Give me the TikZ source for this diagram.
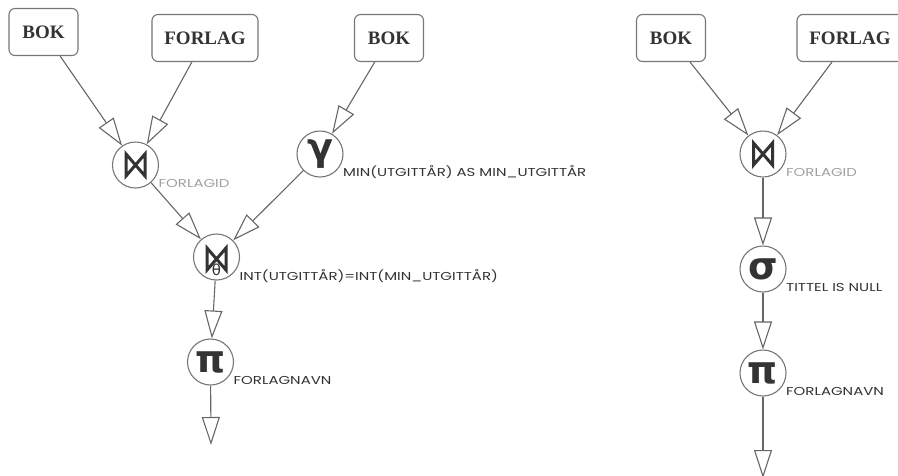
\documentclass[tikz,border=0pt]{standalone}
\usepackage{fontspec}
\usetikzlibrary{arrows.meta}
\newfontfamily\boxfont{Liberation Serif}
\newfontfamily\labelfont[FakeStretch=1.3]{Poppins}
\newfontfamily\symfont{DejaVu Sans}
\definecolor{edgegray}{HTML}{666666}
\definecolor{ringgray}{HTML}{777777}
\definecolor{ink}{HTML}{333333}
\definecolor{faint}{HTML}{A0A0A0}
\tikzset{
  relbox/.style={draw=ringgray, line width=1.1pt, rounded corners=6pt, fill=white,
    minimum height=47pt, inner sep=0pt, text=ink,
    font=\boxfont\bfseries\fontsize{19}{19}\selectfont},
  opnode/.style={circle, draw=ringgray, line width=1.1pt, minimum size=46pt,
    inner sep=0pt, fill=white, text=ink},
  greek/.style={font=\symfont\bfseries\fontsize{38}{38}\selectfont},
  oplabel/.style={anchor=west, inner sep=0pt, text=ink,
    font=\labelfont\fontsize{11.5}{11.5}\selectfont},
  flow/.style={draw=edgegray, line width=1.1pt,
    -{Triangle[open, length=28pt, width=18pt, line width=1.1pt]}},
  bowtie/.pic={
    \draw[ink, line width=3pt, line join=miter, miter limit=4]
      (-9.5,-11) -- (-9.5,11) -- (9.5,-11) -- (9.5,11) -- cycle;
  }
}
\begin{document}
\begin{tikzpicture}[x=1pt, y=-1pt]
  \useasboundingbox (0,0) rectangle (898,475);
  \clip (0,0) rectangle (898,475);

  % ---- first query tree ----
  \node[relbox, minimum width=69pt]  (bokA)    at (43.5,32) {BOK};
  \node[relbox, minimum width=106pt] (forlagA) at (205,38)  {FORLAG};
  \node[relbox, minimum width=69pt]  (bokB)    at (389,38)  {BOK};

  \node[opnode] (joinA)  at (135.5,165) {};
  \path (joinA) pic {bowtie};
  \node[oplabel, text=faint] at ([shift={(23,18)}]joinA.center) {FORLAGID};

  \node[opnode, greek] (gamma) at (320,154) {γ};
  \node[oplabel] at ([shift={(23,18)}]gamma.center) {MIN(UTGITTÅR) AS MIN\_UTGITTÅR};

  \node[opnode] (theta) at (216.5,257) {};
  \path ([yshift=-2pt]theta.center) pic {bowtie};
  \node[text=ink, inner sep=0pt, font=\symfont\fontsize{15}{15}\selectfont]
    at ([shift={(0,13)}]theta.center) {θ};
  \node[oplabel] at ([shift={(23,19)}]theta.center) {INT(UTGITTÅR)=INT(MIN\_UTGITTÅR)};

  \node[opnode, greek] (projA) at (210.5,362) {π};
  \node[oplabel] at ([shift={(23,18)}]projA.center) {FORLAGNAVN};

  \coordinate (outA) at (211,445);

  \draw[flow] (bokA) -- (joinA);
  \draw[flow] (forlagA) -- (joinA);
  \draw[flow] (bokB) -- (gamma);
  \draw[flow] (joinA) -- (theta);
  \draw[flow] (gamma) -- (theta);
  \draw[flow] (theta) -- (projA);
  \draw[flow] (projA) -- (outA);

  % ---- second query tree ----
  \node[relbox, minimum width=69pt]  (bokC)    at (671,38) {BOK};
  \node[relbox, minimum width=106pt] (forlagC) at (850,38) {FORLAG};

  \node[opnode] (joinC) at (763,154) {};
  \path (joinC) pic {bowtie};
  \node[oplabel, text=faint] at ([shift={(23,18)}]joinC.center) {FORLAGID};

  \node[opnode, greek] (sigma) at (763,269) {σ};
  \node[oplabel] at ([shift={(23,18)}]sigma.center) {TITTEL IS NULL};

  \node[opnode, greek] (projC) at (763,373) {π};
  \node[oplabel] at ([shift={(23,18)}]projC.center) {FORLAGNAVN};

  \coordinate (outC) at (763,478);

  \draw[flow] (bokC) -- (joinC);
  \draw[flow] (forlagC) -- (joinC);
  \draw[flow] (joinC) -- (sigma);
  \draw[flow] (sigma) -- (projC);
  \draw[flow] (projC) -- (outC);
\end{tikzpicture}
\end{document}
